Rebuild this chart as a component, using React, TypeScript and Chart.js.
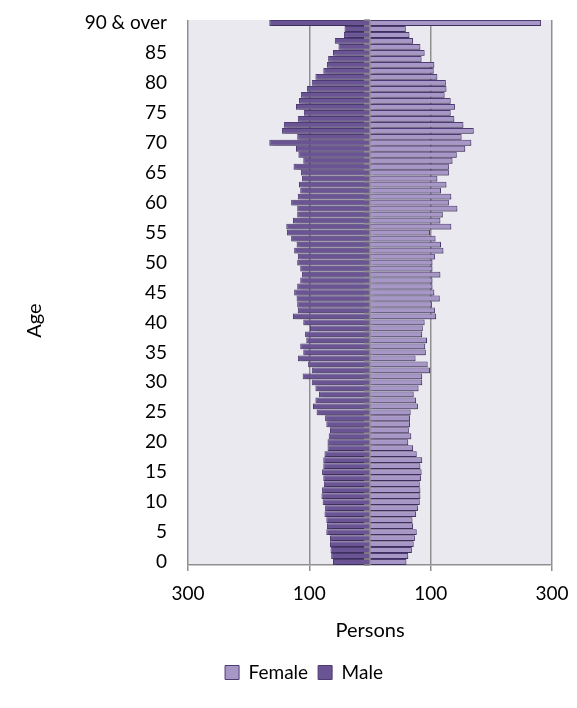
import { useEffect, useRef } from 'react';
import { Chart, registerables } from 'chart.js';

Chart.register(...registerables);

const ageLabels = [
  '0', '1', '2', '3', '4', '5', '6', '7', '8', '9',
  '10', '11', '12', '13', '14', '15', '16', '17', '18', '19',
  '20', '21', '22', '23', '24', '25', '26', '27', '28', '29',
  '30', '31', '32', '33', '34', '35', '36', '37', '38', '39',
  '40', '41', '42', '43', '44', '45', '46', '47', '48', '49',
  '50', '51', '52', '53', '54', '55', '56', '57', '58', '59',
  '60', '61', '62', '63', '64', '65', '66', '67', '68', '69',
  '70', '71', '72', '73', '74', '75', '76', '77', '78', '79',
  '80', '81', '82', '83', '84', '85', '86', '87', '88', '89',
  '90 & over',
];

const yTickLabels = ['0', '5', '10', '15', '20', '25', '30', '35', '40', '45', '50', '55', '60', '65', '70', '75', '80', '85', '90 & over'];

const femaleValues = [
  60, 63, 69, 72, 74, 77, 71, 70, 76, 79,
  82, 83, 83, 82, 84, 85, 83, 86, 77, 71,
  63, 68, 64, 66, 66, 67, 79, 76, 72, 80,
  86, 86, 99, 95, 75, 92, 91, 94, 86, 87,
  90, 109, 107, 102, 115, 106, 103, 103, 116, 103,
  103, 107, 121, 117, 108, 99, 134, 116, 120, 144,
  130, 134, 117, 126, 111, 130, 130, 136, 143, 157,
  167, 151, 171, 154, 139, 133, 140, 133, 123, 126,
  125, 111, 105, 106, 85, 90, 83, 71, 65, 59,
  282,
];

const maleValues = [
  61, 64, 65, 66, 66, 72, 71, 72, 75, 74,
  78, 80, 79, 76, 77, 79, 77, 77, 75, 70,
  70, 68, 66, 72, 74, 88, 94, 90, 84, 90,
  96, 111, 96, 102, 119, 110, 115, 105, 107, 99,
  110, 127, 119, 120, 121, 125, 120, 115, 112, 115,
  120, 119, 125, 121, 130, 137, 138, 127, 120, 120,
  130, 119, 115, 117, 112, 114, 126, 110, 118, 122,
  166, 120, 145, 142, 119, 109, 122, 117, 114, 104,
  96, 90, 77, 71, 69, 61, 52, 58, 43, 42,
  166,
];

const xMin = -300;
const xMax = 300;
const xStep = 200;

const FONT = 'Lato, "Open Sans", sans-serif';
const GRID = '#8f8f8f';

const plotBackground = {
  id: 'plotBackground',
  beforeDraw(chart: any) {
    const { ctx, chartArea } = chart;
    ctx.save();
    ctx.fillStyle = '#ebe9f0';
    ctx.fillRect(chartArea.left, chartArea.top, chartArea.right - chartArea.left, chartArea.bottom - chartArea.top);
    ctx.restore();
  },
};

const barShadow = {
  id: 'barShadow',
  beforeDatasetsDraw(chart: any) {
    const ctx = chart.ctx;
    ctx.save();
    ctx.shadowColor = 'rgba(0,0,0,0.35)';
    ctx.shadowBlur = 4;
    ctx.shadowOffsetX = 2;
    ctx.shadowOffsetY = 3;
  },
  afterDatasetsDraw(chart: any) {
    chart.ctx.restore();
  },
};

const centreAxis = {
  id: 'centreAxis',
  afterDatasetsDraw(chart: any) {
    const { ctx, chartArea } = chart;
    const x = chart.scales.x.getPixelForValue(0);
    const yScale = chart.scales.y;
    const n = ageLabels.length;
    ctx.save();
    ctx.strokeStyle = GRID;
    ctx.lineWidth = 1.5;
    ctx.beginPath();
    ctx.moveTo(x, chartArea.top);
    ctx.lineTo(x, chartArea.bottom);
    const half = Math.abs(yScale.getPixelForValue(1) - yScale.getPixelForValue(0)) / 2;
    for (let i = 0; i < n; i++) {
      const y = yScale.getPixelForValue(i) + half;
      ctx.moveTo(x - 6, y);
      ctx.lineTo(x, y);
    }
    ctx.moveTo(x - 6, yScale.getPixelForValue(n - 1) - half);
    ctx.lineTo(x, yScale.getPixelForValue(n - 1) - half);
    ctx.stroke();
    ctx.restore();
  },
};

const ageTitle = {
  id: 'ageTitle',
  afterDraw(chart: any) {
    const { ctx, chartArea } = chart;
    ctx.save();
    ctx.translate(27, (chartArea.top + chartArea.bottom) / 2 + 28);
    ctx.rotate(-Math.PI / 2);
    ctx.fillStyle = '#000';
    ctx.font = `20px ${FONT}`;
    ctx.textAlign = 'center';
    ctx.textBaseline = 'middle';
    ctx.fillText('Age', 0, 0);
    ctx.restore();
  },
};

export default function App() {
  const canvasRef = useRef<HTMLCanvasElement | null>(null);

  useEffect(() => {
    if (!canvasRef.current) return;
    const chart = new Chart(canvasRef.current, {
      type: 'bar',
      data: {
        labels: ageLabels,
        datasets: [
          {
            label: 'Female',
            data: femaleValues,
            backgroundColor: '#a697c7',
            borderColor: '#4e3c74',
            borderWidth: 1,
            barPercentage: 0.97,
            categoryPercentage: 1,
          },
          {
            label: 'Male',
            data: maleValues.map((v) => -v),
            backgroundColor: '#6a5494',
            borderColor: '#4e3c74',
            borderWidth: 1,
            barPercentage: 0.97,
            categoryPercentage: 1,
          },
        ],
      },
      options: {
        indexAxis: 'y',
        animation: false,
        responsive: true,
        maintainAspectRatio: false,
        layout: { padding: { left: 48, right: 17, top: 12, bottom: 8 } },
        scales: {
          x: {
            type: 'linear',
            stacked: true,
            min: xMin,
            max: xMax,
            ticks: {
              stepSize: xStep,
              callback: (v: any) => String(Math.abs(Number(v))),
              font: { family: FONT, size: 19 },
              color: '#000',
              padding: 11,
              maxRotation: 0,
            },
            grid: { color: GRID, lineWidth: 1.5, tickLength: 6, drawTicks: true },
            border: { display: true, color: GRID, width: 1.5 },
            title: {
              display: true,
              text: 'Persons',
              font: { family: FONT, size: 20 },
              color: '#000',
              padding: { top: 8, bottom: 10 },
            },
            afterFit: (scale: any) => {
              scale.height = 88;
              scale.paddingLeft = 0;
              scale.paddingRight = 0;
            },
          },
          y: {
            type: 'category',
            stacked: true,
            reverse: true,
            grid: { display: false, drawTicks: false },
            border: { display: false },
            ticks: {
              autoSkip: false,
              padding: 21,
              font: { family: FONT, size: 19 },
              color: '#000',
              callback: function (this: any, _v: any, i: number) {
                const lab = ageLabels[i];
                return yTickLabels.includes(lab) ? lab : '';
              },
            },
            afterFit: (scale: any) => {
              scale.width = 132;
              scale.paddingTop = 0;
              scale.paddingBottom = 0;
            },
          },
        },
        plugins: {
          legend: {
            position: 'bottom',
            labels: {
              font: { family: FONT, size: 19 },
              color: '#000',
              boxWidth: 14,
              boxHeight: 14,
              padding: 10,
            },
          },
          tooltip: { enabled: false },
        },
      },
      plugins: [plotBackground, barShadow, centreAxis, ageTitle],
    } as any);
    return () => chart.destroy();
  }, []);

  return (
    <div style={{ position: 'relative', width: 561, height: 692 }}>
      <canvas ref={canvasRef} />
    </div>
  );
}
